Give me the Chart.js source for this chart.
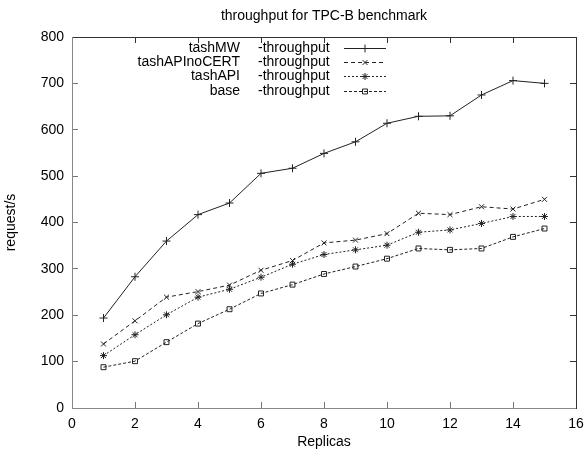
<!DOCTYPE html>
<html>
<head>
<meta charset="utf-8">
<script src="https://cdn.jsdelivr.net/npm/chart.js@4/dist/chart.umd.min.js"></script>
<style>
html,body{margin:0;padding:0;background:#fff;}
#wrap{width:584px;height:453px;position:relative;}
</style>
</head>
<body>
<div id="wrap"><canvas id="c" width="584" height="453"></canvas></div>
<script>
const replicas = [1,2,3,4,5,6,7,8,9,10,11,12,13,14,15];
const seriesNames = ['tashMW','tashAPInoCERT','tashAPI','base'];
const legendSuffix = '-throughput';
const tashMW = [194,283,360,417,442,506,517,549,574,614,629,630,675,706,700];
const tashAPInoCERT = [138,188,239,251,265,297,318,356,362,376,420,417,434,429,450];
const tashAPI = [113,158,201,239,256,282,310,331,341,351,379,384,398,413,413];
const base = [88,101,142,182,213,247,266,289,305,322,344,341,344,369,387];
const xTicksMax = 16;
const yTicksMax = 800;
const titleText = 'throughput for TPC-B benchmark';
const xTitle = 'Replicas';
const yTitle = 'request/s';

const FONT = 'Liberation Sans, Arial, sans-serif';
const INK = '#222';
const styles = [
  {pointStyle:'cross', dash:[], radius:4},
  {pointStyle:'crossRot', dash:[4,3], radius:3.5},
  {pointStyle:'star', dash:[2,2], radius:3.5},
  {pointStyle:'rect', dash:[3,2], radius:3.5}
];
const values = [tashMW, tashAPInoCERT, tashAPI, base];

const datasets = values.map((vals, i) => ({
  label: seriesNames[i] + ' ' + legendSuffix,
  data: replicas.map((x, j) => ({x: x, y: vals[j]})),
  borderColor: INK,
  backgroundColor: 'rgba(0,0,0,0)',
  borderWidth: 1,
  borderDash: styles[i].dash,
  pointStyle: styles[i].pointStyle,
  pointRadius: styles[i].radius,
  pointBorderColor: INK,
  pointBackgroundColor: 'rgba(0,0,0,0)',
  pointBorderWidth: 1,
  tension: 0,
  fill: false
}));

const customText = {
  id: 'customText',
  afterDraw(chart) {
    const ctx = chart.ctx;
    const ca = chart.chartArea;
    ctx.save();
    ctx.fillStyle = '#000';
    ctx.font = '14px ' + FONT;
    ctx.textAlign = 'center';
    ctx.textBaseline = 'middle';
    ctx.fillText(titleText, (ca.left + ca.right) / 2, 16);
    // legend
    const rowY = [48, 62, 76, 91];
    chart.data.datasets.forEach((ds, i) => {
      const y = rowY[i];
      ctx.fillStyle = '#000';
      ctx.textAlign = 'right';
      ctx.fillText(seriesNames[i], 240, y);
      ctx.textAlign = 'left';
      ctx.fillText(legendSuffix, 258, y);
      ctx.save();
      ctx.strokeStyle = INK;
      ctx.lineWidth = 1;
      ctx.setLineDash(ds.borderDash);
      ctx.beginPath();
      ctx.moveTo(344, y + 0.5);
      ctx.lineTo(386, y + 0.5);
      ctx.stroke();
      ctx.restore();
      if (Chart.helpers && Chart.helpers.drawPoint) {
        ctx.save();
        ctx.strokeStyle = INK;
        ctx.fillStyle = 'rgba(0,0,0,0)';
        ctx.lineWidth = 1;
        Chart.helpers.drawPoint(ctx, {pointStyle: ds.pointStyle, rotation: 0, radius: ds.pointRadius, borderWidth: 1}, 365, y + 0.5);
        ctx.restore();
      }
    });
    ctx.restore();
  }
};

const tickFont = {family: FONT, size: 14};

new Chart(document.getElementById('c'), {
  type: 'line',
  data: {datasets: datasets},
  plugins: [customText],
  options: {
    responsive: false,
    animation: false,
    devicePixelRatio: 1,
    layout: {padding: {top: 37, right: 8, left: 0, bottom: 0}},
    plugins: {legend: {display: false}, title: {display: false}, tooltip: {enabled: false}},
    scales: {
      x: {
        type: 'linear', position: 'bottom', min: 0, max: xTicksMax,
        ticks: {stepSize: 2, color: '#000', font: tickFont, padding: 14, maxRotation: 0},
        grid: {drawOnChartArea: false, tickLength: -6, color: '#777'},
        border: {color: '#888', width: 1},
        title: {display: true, text: xTitle, color: '#000', font: tickFont, padding: {top: 2, bottom: 2}},
        afterFit(s) { s.height = 45; s.paddingLeft = 0; s.paddingRight = 0; }
      },
      x2: {
        type: 'linear', position: 'top', min: 0, max: xTicksMax,
        ticks: {stepSize: 2, display: false},
        grid: {drawOnChartArea: false, tickLength: -6, color: '#333'},
        border: {color: '#333', width: 1},
        afterFit(s) { s.height = 0; s.paddingLeft = 0; s.paddingRight = 0; }
      },
      y: {
        type: 'linear', position: 'left', min: 0, max: yTicksMax,
        ticks: {stepSize: 100, color: '#000', font: tickFont, padding: 14},
        grid: {drawOnChartArea: false, tickLength: -6, color: '#777'},
        border: {color: '#888', width: 1},
        title: {display: true, text: yTitle, color: '#000', font: tickFont, padding: {top: 3, bottom: 0}},
        afterFit(s) { s.width = 72; s.paddingTop = 0; s.paddingBottom = 0; }
      },
      y2: {
        type: 'linear', position: 'right', min: 0, max: yTicksMax,
        ticks: {stepSize: 100, display: false},
        grid: {drawOnChartArea: false, tickLength: -6, color: '#333'},
        border: {color: '#333', width: 1},
        afterFit(s) { s.width = 0; s.paddingTop = 0; s.paddingBottom = 0; }
      }
    }
  }
});
</script>
</body>
</html>
